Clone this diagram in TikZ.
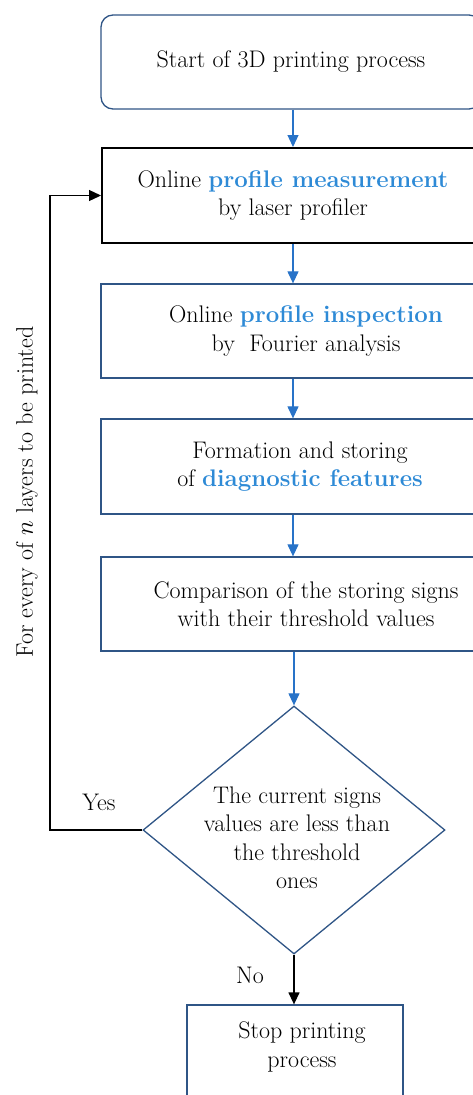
\documentclass[tikz,border=0pt]{standalone}
\usetikzlibrary{shapes.geometric,arrows.meta}
\definecolor{bord}{HTML}{2F5586}
\definecolor{arr}{HTML}{2873C8}
\definecolor{hl}{HTML}{2E8AD6}
\newcommand{\hlt}[1]{{\color{hl}\bfseries #1}}
\begin{document}
\begin{tikzpicture}[x=1pt,y=-1pt,
  font=\fontsize{24}{28.5}\selectfont,
  box/.style={draw=bord, line width=1.3pt, minimum height=94pt, align=center, inner sep=0pt},
  blk/.style={draw=black, line width=2pt, minimum height=95pt, align=center, inner sep=0pt},
  decis/.style={diamond, draw=bord, line width=1.3pt, minimum width=302pt, minimum height=248pt, inner sep=0pt},
  flow/.style={draw=arr, line width=1.2pt, -{Triangle[width=11pt,length=12pt]}},
  bflow/.style={draw=black, line width=1.3pt, -{Triangle[width=11pt,length=12pt]}},
  lbl/.style={align=center, inner sep=0pt}]
\useasboundingbox (0,0) rectangle (473,1095);
\clip (0,0) rectangle (473,1095);
\coordinate (ax) at (293,0);
\coordinate (lx) at (50,0);
\node[box, rounded corners=12pt, minimum width=380pt] (start) at (291,62) {Start of 3D printing process};
\node[blk, minimum width=382pt] (meas) at (293,195.5) {Online \hlt{profile measurement}\\by laser profiler};
\node[box, minimum width=410pt] (insp) at (306,331) {Online \hlt{profile inspection}\\by\ \ Fourier analysis};
\node[box, minimum width=398pt, minimum height=95pt] (form) at (300,466.5) {Formation and storing\\of \hlt{diagnostic features}};
\node[box, minimum width=410pt] (comp) at (306,604) {Comparison of the storing signs\\with their threshold values};
\node[decis] (dec) at (294,830) {};
\node[lbl] (dectext) at (297,838) {The current signs\\values are less than\\the threshold\\ones};
\node[draw=bord, line width=1.3pt, minimum width=216pt, minimum height=110pt, inner sep=0pt] (stop) at (295,1060) {};
\node[lbl] (stoptext) at (302,1047) {Stop printing\\process};
\node[lbl] (yes) at (99,802) {Yes};
\node[lbl] (no) at (250,975) {No};
\node[lbl, rotate=90] (loopl) at (27,492) {For every of $n$ layers to be printed};
\draw[flow] (start.south -| ax) -- (meas.north -| ax);
\draw[flow] (meas.south -| ax) -- (insp.north -| ax);
\draw[flow] (insp.south -| ax) -- (form.north -| ax);
\draw[flow] (form.south -| ax) -- (comp.north -| ax);
\draw[flow] (comp.south -| dec.north) -- (dec.north);
\draw[bflow] (dec.south) -- (stop.north -| dec.south);
\draw[bflow] (dec.west) -- (dec.west -| lx) |- (meas.west);
\end{tikzpicture}
\end{document}
